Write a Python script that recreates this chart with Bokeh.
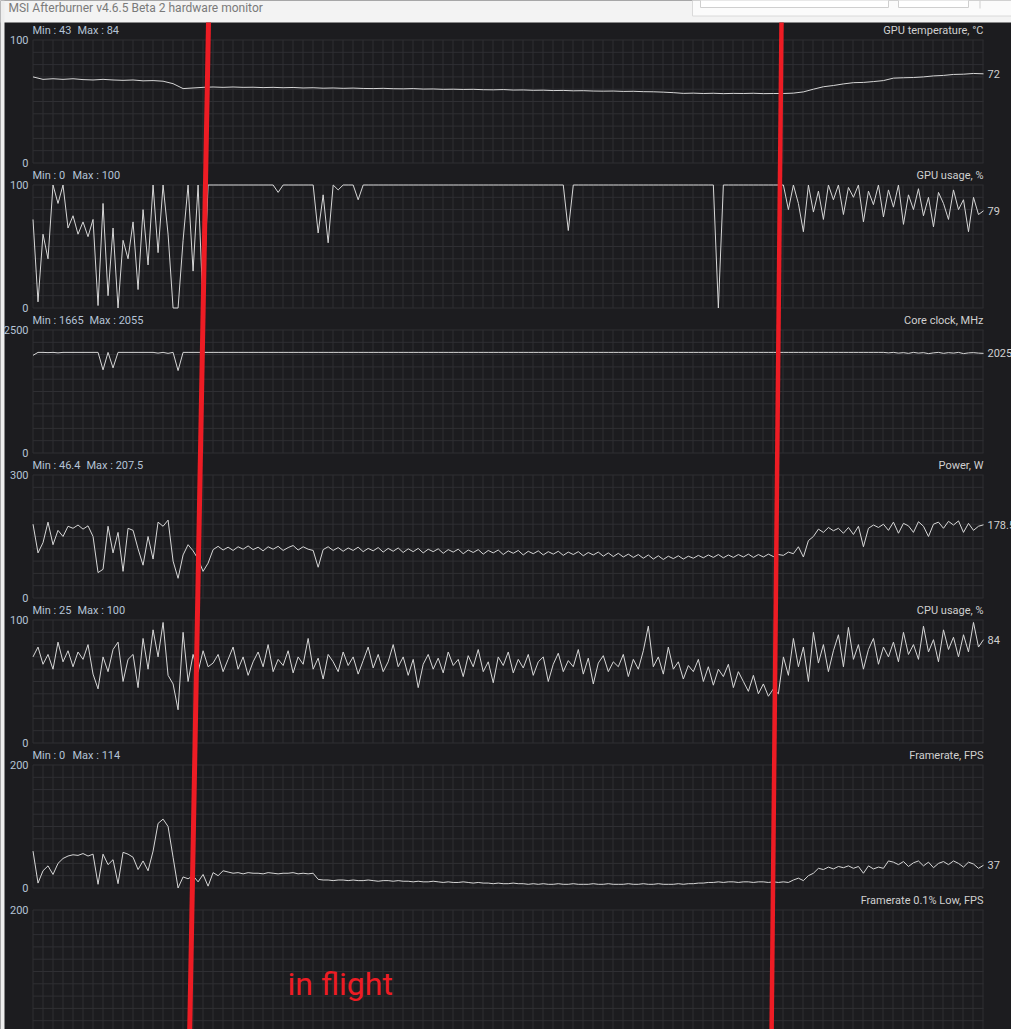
from bokeh.plotting import figure
from bokeh.models import Range1d
from bokeh.core.properties import value
from bokeh.embed import file_html
from bokeh.resources import INLINE

# ---------------- data ----------------
# sample index of each reading (fine series: every sample, temperature: every 2nd sample)
t_fine = list(range(191))
t_temp = list(range(0, 191, 2))

gpu_temp = [70.0, 68.0, 68.5, 68.0, 68.5, 67.8, 67.5, 68.0, 67.5, 67.2,
            67.5, 66.8, 67.0, 66.5, 64.5, 60.5, 61.0, 61.5, 61.8, 61.5,
            61.8, 61.5, 61.6, 61.3, 61.5, 61.2, 61.4, 61.0, 61.2, 60.8,
            61.0, 60.7, 60.9, 60.6, 60.5, 60.7, 60.4, 60.3, 60.5, 60.1,
            60.2, 59.9, 60.0, 59.8, 59.9, 59.6, 59.5, 59.7, 59.3, 59.4,
            59.1, 59.2, 58.9, 59.0, 58.7, 58.8, 58.5, 58.4, 58.5, 58.2,
            58.3, 58.0, 57.9, 57.6, 57.2, 56.6, 56.8, 56.5, 56.7, 56.4,
            56.6, 56.5, 56.7, 56.4, 56.5, 56.5, 56.8, 57.8, 60.0, 62.0,
            63.0, 64.3, 65.3, 65.5, 66.2, 67.0, 69.0, 69.3, 69.5, 70.0,
            70.8, 71.2, 72.0, 72.2, 72.8, 72.5]

gpu_usage = [72, 5, 60, 40, 100, 85, 100, 65, 75, 60,
             70, 58, 72, 2, 85, 10, 65, 0, 55, 40,
             70, 15, 80, 35, 100, 45, 100, 60, 0, 0,
             55, 100, 30, 100, 0, 100, 100, 100, 100, 100,
             100, 100, 100, 100, 100, 100, 100, 100, 100, 94,
             100, 100, 100, 100, 100, 100, 100, 61, 92, 53,
             100, 96, 100, 100, 100, 88, 100, 100, 100, 100,
             100, 100, 100, 100, 100, 100, 100, 100, 100, 100,
             100, 100, 100, 100, 100, 100, 100, 100, 100, 100,
             100, 100, 100, 100, 100, 100, 100, 100, 100, 100,
             100, 100, 100, 100, 100, 100, 100, 63, 100, 100,
             100, 100, 100, 100, 100, 100, 100, 100, 100, 100,
             100, 100, 100, 100, 100, 100, 100, 100, 100, 100,
             100, 100, 100, 100, 100, 100, 100, 0, 100, 100,
             100, 100, 100, 100, 100, 100, 100, 100, 100, 100,
             100, 80, 100, 85, 62, 100, 78, 95, 72, 100,
             88, 100, 76, 98, 90, 100, 70, 95, 84, 100,
             74, 96, 82, 100, 68, 92, 80, 97, 75, 90,
             66, 94, 85, 72, 96, 80, 88, 62, 90, 76, 79]

core_clock = [1985, 2045, 2045, 2040, 2045, 2035, 2045, 2045, 2045, 2045,
              2045, 2045, 2045, 2045, 1690, 2045, 1730, 2045, 2045, 2045,
              2045, 2045, 2045, 2045, 2045, 2030, 2045, 2025, 2045, 1675,
              2045, 2045, 2045, 2045, 2045, 2045, 2045, 2045, 2045, 2045,
              2045, 2045, 2045, 2045, 2045, 2045, 2045, 2045, 2045, 2045,
              2045, 2045, 2045, 2045, 2045, 2045, 2045, 2045, 2045, 2045,
              2045, 2045, 2045, 2045, 2045, 2045, 2045, 2045, 2045, 2045,
              2045, 2045, 2045, 2045, 2045, 2045, 2045, 2045, 2045, 2045,
              2045, 2045, 2045, 2045, 2045, 2045, 2045, 2045, 2045, 2045,
              2045, 2045, 2045, 2045, 2045, 2045, 2045, 2045, 2045, 2045,
              2045, 2045, 2045, 2045, 2045, 2045, 2045, 2045, 2045, 2045,
              2045, 2045, 2045, 2045, 2045, 2045, 2045, 2045, 2045, 2045,
              2045, 2045, 2045, 2045, 2045, 2045, 2045, 2045, 2045, 2045,
              2045, 2045, 2045, 2045, 2045, 2045, 2045, 2045, 2045, 2045,
              2045, 2045, 2045, 2045, 2045, 2045, 2045, 2045, 2045, 2045,
              2045, 2045, 2045, 2045, 2045, 2045, 2045, 2045, 2045, 2045,
              2045, 2045, 2045, 2045, 2045, 2045, 2045, 2045, 2045, 2045,
              2045, 2035, 2045, 2030, 2040, 2025, 2045, 2030, 2040, 2020,
              2035, 2045, 2025, 2040, 2030, 2045, 2020, 2035, 2040, 2030, 2025]

power = [180, 110, 135, 185, 130, 165, 150, 175, 170, 178,
         168, 176, 150, 62, 70, 175, 110, 160, 65, 170,
         165, 120, 80, 150, 95, 185, 175, 190, 90, 48,
         105, 130, 115, 95, 65, 85, 118, 126, 117, 124,
         116, 125, 119, 127, 118, 124, 115, 125, 119, 126,
         116, 123, 128, 117, 125, 119, 116, 75, 118, 125,
         116, 123, 114, 122, 116, 124, 113, 121, 115, 123,
         112, 121, 114, 122, 111, 120, 113, 121, 110, 119,
         113, 120, 109, 118, 112, 119, 108, 117, 111, 118,
         107, 116, 110, 117, 106, 115, 109, 116, 105, 114,
         108, 115, 105, 113, 107, 114, 104, 112, 106, 113,
         103, 111, 105, 112, 102, 110, 101, 109, 100, 107,
         99, 106, 97, 105, 95, 103, 94, 102, 96, 103,
         95, 102, 97, 104, 98, 105, 99, 106, 98, 105,
         99, 106, 100, 107, 99, 106, 100, 107, 101, 106,
         104, 112, 108, 125, 100, 140, 150, 168, 160, 172,
         164, 170, 158, 172, 155, 175, 125, 170, 178, 172,
         180, 165, 185, 158, 182, 176, 160, 186, 175, 150,
         180, 185, 170, 187, 178, 188, 160, 182, 165, 175, 178.5]

cpu_usage = [70, 78, 64, 72, 60, 82, 66, 75, 62, 74,
             68, 80, 56, 44, 70, 58, 76, 82, 50, 68,
             72, 45, 85, 60, 92, 70, 98, 55, 48, 27,
             90, 50, 72, 58, 75, 62, 65, 72, 58, 68,
             78, 60, 70, 55, 66, 74, 62, 80, 58, 68,
             63, 75, 57, 70, 64, 85, 60, 69, 52, 72,
             66, 58, 74, 63, 70, 56, 67, 78, 61, 72,
             58, 66, 80, 62, 70, 55, 68, 45, 64, 72,
             60, 69, 57, 74, 63, 68, 54, 71, 62, 76,
             58, 66, 49, 70, 63, 74, 57, 68, 61, 72,
             55, 66, 70, 50, 64, 73, 58, 67, 62, 76,
             56, 69, 48, 65, 71, 58, 66, 62, 72, 54,
             68, 60, 75, 95, 62, 70, 56, 78, 60, 66,
             52, 63, 58, 68, 50, 62, 47, 60, 54, 64,
             45, 58, 50, 42, 55, 40, 48, 38, 44, 40,
             70, 55, 85, 62, 78, 50, 90, 65, 80, 58,
             75, 88, 62, 94, 68, 80, 60, 76, 85, 64,
             78, 70, 82, 66, 90, 72, 80, 68, 95, 74,
             84, 66, 92, 76, 86, 70, 88, 74, 98, 78, 84]

framerate = [60, 8, 28, 36, 22, 40, 48, 52, 54, 53,
             56, 52, 55, 6, 55, 38, 46, 7, 58, 55,
             50, 30, 44, 28, 60, 105, 112, 100, 50, 0,
             18, 15, 20, 10, 22, 3, 25, 20, 28, 26,
             24, 25, 23, 25, 24, 24, 23, 25, 24, 23,
             24, 24, 25, 23, 24, 23, 24, 14, 13, 13,
             12, 13, 13, 12, 13, 12, 12, 13, 12, 11,
             12, 12, 11, 12, 11, 11, 10, 11, 10, 10,
             11, 10, 9, 10, 9, 9, 10, 9, 8, 9,
             8, 8, 7, 8, 7, 7, 8, 7, 7, 6,
             7, 6, 7, 6, 6, 7, 6, 6, 7, 6,
             6, 6, 7, 6, 6, 7, 6, 6, 6, 7,
             6, 6, 7, 6, 6, 7, 6, 6, 6, 7,
             6, 7, 7, 8, 8, 9, 9, 10, 9, 10,
             10, 9, 10, 10, 9, 10, 10, 9, 10, 9,
             10, 9, 13, 16, 12, 20, 24, 32, 30, 34,
             31, 35, 33, 36, 32, 35, 24, 36, 31, 34,
             32, 44, 42, 38, 43, 35, 41, 44, 36, 42,
             33, 40, 43, 38, 44, 40, 34, 42, 39, 32, 37]

framerate_low = []  # no samples shown

panel_titles = ["GPU temperature, °C", "GPU usage, %", "Core clock, MHz", "Power, W",
                "CPU usage, %", "Framerate, FPS", "Framerate 0.1% Low, FPS"]
panel_max = [100, 100, 2500, 300, 100, 200, 200]
panel_min_text = ["Min : 43", "Min : 0", "Min : 1665", "Min : 46.4", "Min : 25", "Min : 0", None]
panel_max_text = ["Max : 84", "Max : 100", "Max : 2055", "Max : 207.5", "Max : 100", "Max : 114", None]
current_text = ["72", "79", "2025", "178.5", "84", "37", None]
show_zero_label = [True, True, True, True, True, True, False]

window_title = "MSI Afterburner v4.6.5 Beta 2 hardware monitor"
note_text = "in flight"
# hand-drawn red markers (screen pixels): top and bottom points
marker1 = ([208, 189], [22, 1040])
marker2 = ([781, 771], [22, 1040])

# ---------------- layout / style ----------------
W, H = 1011, 1029
BG = "#1c1c1f"
GRID = "#2f2f33"
LINE = "#d6d6d6"
LABEL = "#b4c3d6"
TITLE_C = "#d0d0d0"
FONT = "Roboto"
RED = "#ed1c24"

X_FIRST, X_LAST = 32.5, 983.0
N = len(t_fine)
k = (X_LAST - X_FIRST) / (N - 1)
PANEL_TOP0, PANEL_STEP, PANEL_H = 39.5, 145.0, 123.0
max_x = [77, 72, 89, 86, 77, 72, None]

p = figure(width=W, height=H, output_backend="svg", toolbar_location=None,
           x_range=Range1d(-X_FIRST / k, (N - 1) + (W - X_LAST) / k),
           y_range=Range1d(H, 0), x_axis_location=None, y_axis_location=None,
           min_border=0)
p.extra_x_ranges = {"px": Range1d(0, W)}
p.outline_line_color = None
p.background_fill_color = BG
p.border_fill_color = BG
p.xgrid.visible = False
p.ygrid.visible = False

# window chrome
p.quad(left=[0], right=[W], top=[0], bottom=[22], x_range_name="px",
       fill_color="#f3f3f3", line_color=None)
p.quad(left=[0], right=[4], top=[0], bottom=[1040], x_range_name="px",
       fill_color="#eeeeee", line_color=None)
p.quad(left=[692], right=[1020], top=[-10], bottom=[15.5], x_range_name="px",
       fill_color="#fbfbfb", line_color="#dadada")
p.quad(left=[700, 898], right=[888, 968], top=[-10, -10], bottom=[7, 7], x_range_name="px",
       fill_color="#ffffff", line_color="#cfcfcf")
p.segment(x0=[979.5], x1=[979.5], y0=[0], y1=[8], x_range_name="px", line_color="#cfcfcf")
p.text(x=[8], y=[7.5], text=[window_title], x_range_name="px", text_font=value(FONT),
       text_font_size="12px", text_color="#7a7a7a", text_baseline="middle")

series = [(t_temp, gpu_temp), (t_fine, gpu_usage), (t_fine, core_clock), (t_fine, power),
          (t_fine, cpu_usage), (t_fine, framerate), (t_fine, framerate_low)]

vgrid_x = [X_FIRST + 10.0 * j for j in range(96)]

for i in range(7):
    top = PANEL_TOP0 + PANEL_STEP * i
    bot = top + PANEL_H
    M = panel_max[i]
    key = f"panel{i}"
    p.extra_y_ranges[key] = Range1d((bot - H) * M / PANEL_H, bot * M / PANEL_H)
    levels = [M * j / 10 for j in range(11)]
    p.segment(x0=[X_FIRST] * 11, x1=[X_LAST] * 11, y0=levels, y1=levels,
              x_range_name="px", y_range_name=key, line_color=GRID, line_width=1)
    p.segment(x0=vgrid_x, x1=vgrid_x, y0=[0] * len(vgrid_x), y1=[M] * len(vgrid_x),
              x_range_name="px", y_range_name=key, line_color=GRID, line_width=1)
    xs, ys = series[i]
    if ys:
        p.line(x=xs, y=ys, y_range_name=key, line_color=LINE, line_width=1)
        p.text(x=[xs[-1]], y=[ys[-1]], text=[current_text[i]], x_offset=4,
               y_range_name=key, text_font=value(FONT), text_font_size="11px",
               text_color=TITLE_C, text_baseline="middle")
    # axis-like labels
    p.text(x=[28], y=[M], text=[str(M)], x_range_name="px", y_range_name=key,
           text_font=value(FONT), text_font_size="11px", text_color=LABEL,
           text_align="right", text_baseline="middle")
    if show_zero_label[i]:
        p.text(x=[28], y=[0], text=["0"], x_range_name="px", y_range_name=key,
               text_font=value(FONT), text_font_size="11px", text_color=LABEL,
               text_align="right", text_baseline="middle")
    if panel_min_text[i]:
        p.text(x=[32, max_x[i]], y=[top - 9.5, top - 9.5],
               text=[panel_min_text[i], panel_max_text[i]], x_range_name="px",
               text_font=value(FONT), text_font_size="11px", text_color=LABEL,
               text_baseline="middle")
    p.text(x=[X_LAST], y=[top - 9.5], text=[panel_titles[i]], x_range_name="px",
           text_font=value(FONT), text_font_size="11px", text_color=TITLE_C,
           text_align="right", text_baseline="middle")

# hand-drawn annotation
p.line(x=marker1[0], y=marker1[1], x_range_name="px", line_color=RED, line_width=5)
p.line(x=marker2[0], y=marker2[1], x_range_name="px", line_color=RED, line_width=4.5)
p.text(x=[287], y=[983], text=[note_text], x_range_name="px", text_font=value(FONT),
       text_font_size="32px", text_color=RED, text_baseline="middle")

open("out.html", "w").write(file_html(p, INLINE))
